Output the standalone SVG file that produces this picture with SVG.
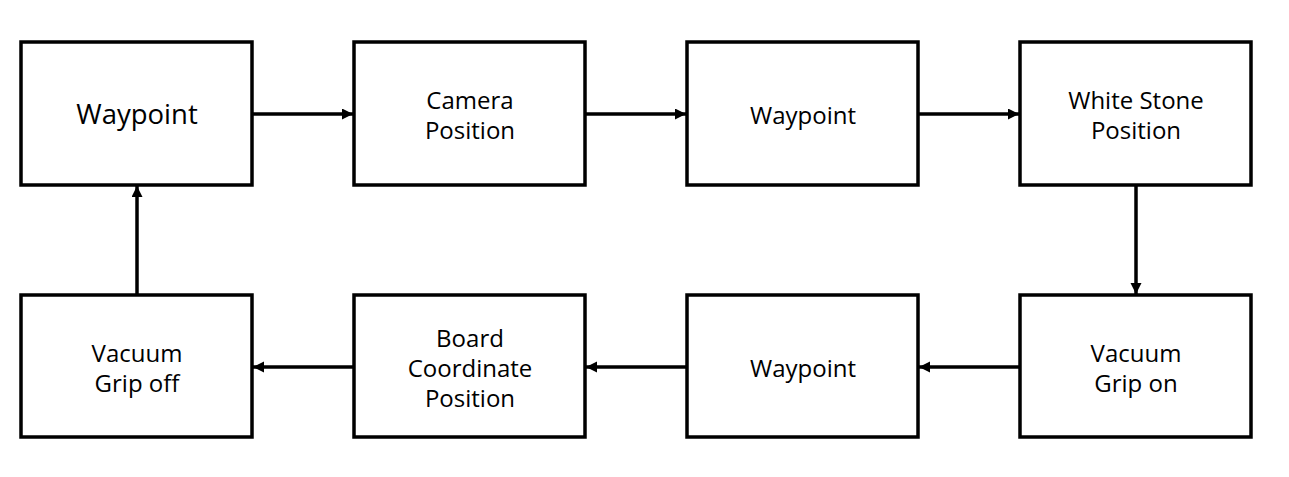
<svg xmlns="http://www.w3.org/2000/svg" width="1289" height="477" viewBox="0 0 1289 477">
<style>
.box{fill:#fff;stroke:#000;stroke-width:3.5}
.t{font-family:"Open Sans","Noto Sans",sans-serif;font-size:24px;fill:#000;text-anchor:middle}
.big{font-size:27.5px}
.c{stroke:#000;stroke-width:3.5;fill:none;marker-end:url(#ah)}
</style>
<defs>
<marker id="ah" markerUnits="userSpaceOnUse" markerWidth="12" markerHeight="12" refX="11" refY="5.5" orient="auto">
<path d="M0,0 L11,5.5 L0,11 Z" fill="#000"/>
</marker>
</defs>
<rect width="1289" height="477" fill="#fff"/>
<g id="connectors">
<line class="c" x1="253" y1="114" x2="353" y2="114"/>
<line class="c" x1="586" y1="114" x2="686" y2="114"/>
<line class="c" x1="919" y1="114" x2="1019" y2="114"/>
<line class="c" x1="1136" y1="186" x2="1136" y2="294"/>
<line class="c" x1="1019" y1="367" x2="919" y2="367"/>
<line class="c" x1="686" y1="367" x2="586" y2="367"/>
<line class="c" x1="353" y1="367" x2="253" y2="367"/>
<line class="c" x1="137" y1="295" x2="137" y2="186"/>
</g>
<g id="n1"><rect class="box" x="21" y="42" width="231" height="143"/><text class="t big" x="137" y="124">Waypoint</text></g>
<g id="n2"><rect class="box" x="354" y="42" width="231" height="143"/><text class="t" x="470" y="109">Camera</text><text class="t" x="470" y="139">Position</text></g>
<g id="n3"><rect class="box" x="687" y="42" width="231" height="143"/><text class="t" x="803" y="124">Waypoint</text></g>
<g id="n4"><rect class="box" x="1020" y="42" width="231" height="143"/><text class="t" x="1136" y="109">White Stone</text><text class="t" x="1136" y="139">Position</text></g>
<g id="n5"><rect class="box" x="1020" y="295" width="231" height="142"/><text class="t" x="1136" y="362">Vacuum</text><text class="t" x="1136" y="392">Grip on</text></g>
<g id="n6"><rect class="box" x="687" y="295" width="231" height="142"/><text class="t" x="803" y="377">Waypoint</text></g>
<g id="n7"><rect class="box" x="354" y="295" width="231" height="142"/><text class="t" x="470" y="347">Board</text><text class="t" x="470" y="377">Coordinate</text><text class="t" x="470" y="407">Position</text></g>
<g id="n8"><rect class="box" x="21" y="295" width="231" height="142"/><text class="t" x="137" y="362">Vacuum</text><text class="t" x="137" y="392">Grip off</text></g>
</svg>
